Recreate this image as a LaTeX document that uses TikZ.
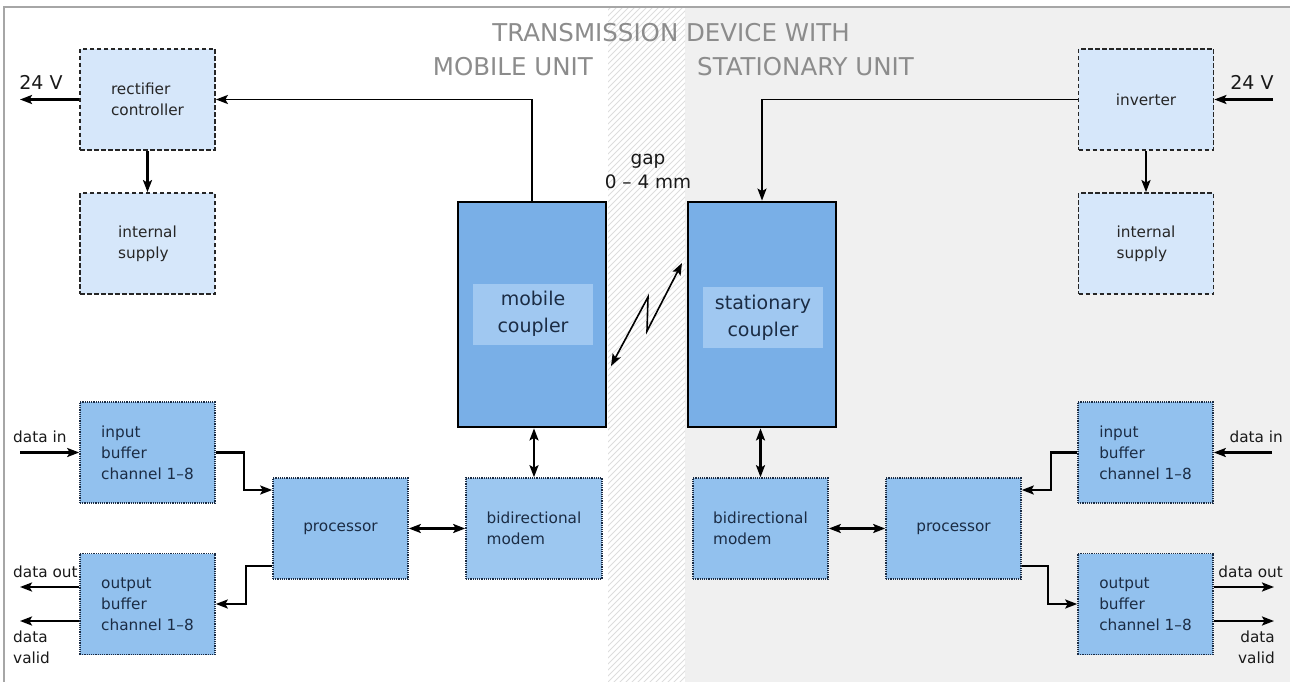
\documentclass[tikz,border=0pt]{standalone}
\usepackage{fontspec}
\setmainfont{DejaVu Sans}
\usetikzlibrary{arrows.meta}
\definecolor{topfill}{HTML}{D6E7FA}
\definecolor{botfill}{HTML}{92C1EE}
\definecolor{modfill}{HTML}{9CC7F0}
\definecolor{coupfill}{HTML}{79AFE7}
\definecolor{labfill}{HTML}{A0C8F1}
\definecolor{graybg}{HTML}{F0F0F0}
\definecolor{hatchc}{HTML}{DDDDDD}
\definecolor{navy}{HTML}{1B2C44}
\definecolor{titlec}{HTML}{8C8C8C}
\tikzset{
  topbox/.style={draw=black!85, fill=topfill, line width=1.8pt, dash pattern=on 4.5pt off 2.5pt,
    minimum width=135pt, minimum height=101pt, inner sep=0pt, align=left,
    text=black!85, font=\fontsize{15.3}{21}\selectfont},
  botbox/.style={draw=navy, fill=botfill, line width=1.6pt, dash pattern=on 1.2pt off 1pt,
    minimum width=135pt, minimum height=101pt, inner sep=0pt, align=left,
    text=navy, font=\fontsize{15.3}{21}\selectfont},
  coupbox/.style={draw=black, fill=coupfill, line width=2.8pt,
    minimum width=148pt, minimum height=225pt, inner sep=0pt},
  coulab/.style={fill=labfill, minimum width=120pt, minimum height=61pt, inner sep=0pt,
    align=center, text=navy, font=\fontsize{19}{27}\selectfont},
  tip/.tip={Stealth[length=12pt,width=9pt,inset=2.5pt]},
  conn/.style={line width=2.2pt, -tip},
  dconn/.style={line width=2.2pt, tip-tip},
  lbl/.style={inner sep=0pt, font=\fontsize{15.3}{21}\selectfont, text=black!90},
  vlbl/.style={inner sep=0pt, font=\fontsize{19}{24}\selectfont, text=black!90},
  ttl/.style={inner sep=0pt, font=\fontsize{24.5}{28}\selectfont, text=titlec},
  hatch/.style={draw=hatchc, line width=0.8pt}
}
\begin{document}
\begin{tikzpicture}[x=1pt,y=-1pt]
\useasboundingbox (0,0) rectangle (1290,682);
% backgrounds
\fill[white] (0,0) rectangle (1290,682);
\fill[graybg] (685,7) rectangle (1295,690);
\begin{scope}
\clip (608,7) rectangle (685,690);
\foreach \k in {0,...,140} \draw[hatch] (-100+\k*6,700) -- ++(720,-720);
\end{scope}
\draw[black!35, line width=1.5pt] (4,690) -- (4,7) -- (1295,7);

% title
\node[ttl] (t1) at (671,33) {TRANSMISSION DEVICE WITH};
\node[ttl, anchor=east] (t2) at (593,67) {MOBILE UNIT};
\node[ttl, anchor=west] (t3) at (697,67) {STATIONARY UNIT};

% top boxes
\node[topbox] (rect) at (147.5,99.5) {rectifier\\controller};
\node[topbox] (isupL) at (147.5,243.5) {internal\\supply};
\node[topbox] (inv) at (1146,99.5) {inverter};
\node[topbox] (isupR) at (1146,243.5) {internal\\supply};

% couplers
\node[coupbox] (mcoup) at (532,314.5) {};
\node[coupbox] (scoup) at (762,314.5) {};
\node[coulab] (mlab) at (533,314) {mobile\\coupler};
\node[coulab] (slab) at (763,317.5) {stationary\\coupler};

% bottom boxes
\node[botbox] (inL) at (147.5,452.5) {input\\buffer\\channel 1–8};
\node[botbox] (outL) at (147.5,604) {output\\buffer\\channel 1–8};
\node[botbox] (procL) at (340.5,528.5) {processor};
\node[botbox, fill=modfill, minimum width=136pt] (modL) at (534,528.5) {bidirectional\\modem};
\node[botbox] (modR) at (760.5,528.5) {bidirectional\\modem};
\node[botbox] (procR) at (953.5,528.5) {processor};
\node[botbox] (inR) at (1145.5,452.5) {input\\buffer\\channel 1–8};
\node[botbox] (outR) at (1145.5,604) {output\\buffer\\channel 1–8};

% gap label
\node[inner sep=0pt, align=center, font=\fontsize{18.5}{23.5}\selectfont, text=black!90] (gap) at (648,171.5) {gap\\0 – 4 mm};

% coordinates for free ends
\coordinate (vL) at (20,99.5);
\coordinate (vR) at (1273,99.5);
\coordinate (dinL) at (20,452.5);
\coordinate (doutL) at (20,587);
\coordinate (dvalL) at (20,621);
\coordinate (dinR) at (1272,452.5);
\coordinate (doutR) at (1274,587);
\coordinate (dvalR) at (1274,621);
\coordinate (za) at (611,366);
\coordinate (zb) at (682,263);

% labels
\node[vlbl] (v24L) at (41,82) {24 V};
\node[vlbl] (v24R) at (1252,82) {24 V};
\node[lbl, anchor=west] (ldinL) at (13,437) {data in};
\node[lbl, anchor=west] (ldoutL) at (13,572) {data out};
\node[lbl, anchor=west, align=left] (ldvalL) at (13,647.5) {data\\valid};
\node[lbl, anchor=east] (ldinR) at (1283,437) {data in};
\node[lbl, anchor=east] (ldoutR) at (1283,572) {data out};
\node[lbl, anchor=east, align=right] (ldvalR) at (1275,647.5) {data\\valid};

% top connectors
\draw[conn] (rect.west) -- (vL);
\draw[conn] (rect.south) -- (isupL.north);
\draw[conn, line width=1.8pt] (mcoup.north) |- (rect.east);
\draw[conn] (vR) -- (inv.east);
\draw[conn] (inv.south) -- (isupR.north);
\draw[conn, line width=1.8pt] (inv.west) -| (scoup.north);

% wireless link
\draw[dconn, line width=1.6pt] (za) -- (648,297) -- (647,331) -- (zb);

% coupler to modem
\draw[dconn] (modL.north |- mcoup.south) -- (modL.north);
\draw[dconn] (modR.north |- scoup.south) -- (modR.north);

% left bottom
\draw[conn] (dinL) -- (inL.west);
\draw[conn] (inL.east) -- (244,452.5) |- (procL.west |- 0,490);
\draw[conn] (procL.west |- 0,566) -- (246,566) |- (outL.east);
\draw[conn] (outL.west |- doutL) -- (doutL);
\draw[conn] (outL.west |- dvalL) -- (dvalL);
\draw[dconn] (procL.east) -- (modL.west);

% right bottom
\draw[conn] (dinR) -- (inR.east);
\draw[conn] (inR.west) -- (1051,452.5) |- (procR.east |- 0,490);
\draw[conn] (procR.east |- 0,566) -- (1048,566) |- (outR.west);
\draw[conn] (outR.east |- doutR) -- (doutR);
\draw[conn] (outR.east |- dvalR) -- (dvalR);
\draw[dconn] (modR.east) -- (procR.west);
\end{tikzpicture}
\end{document}
